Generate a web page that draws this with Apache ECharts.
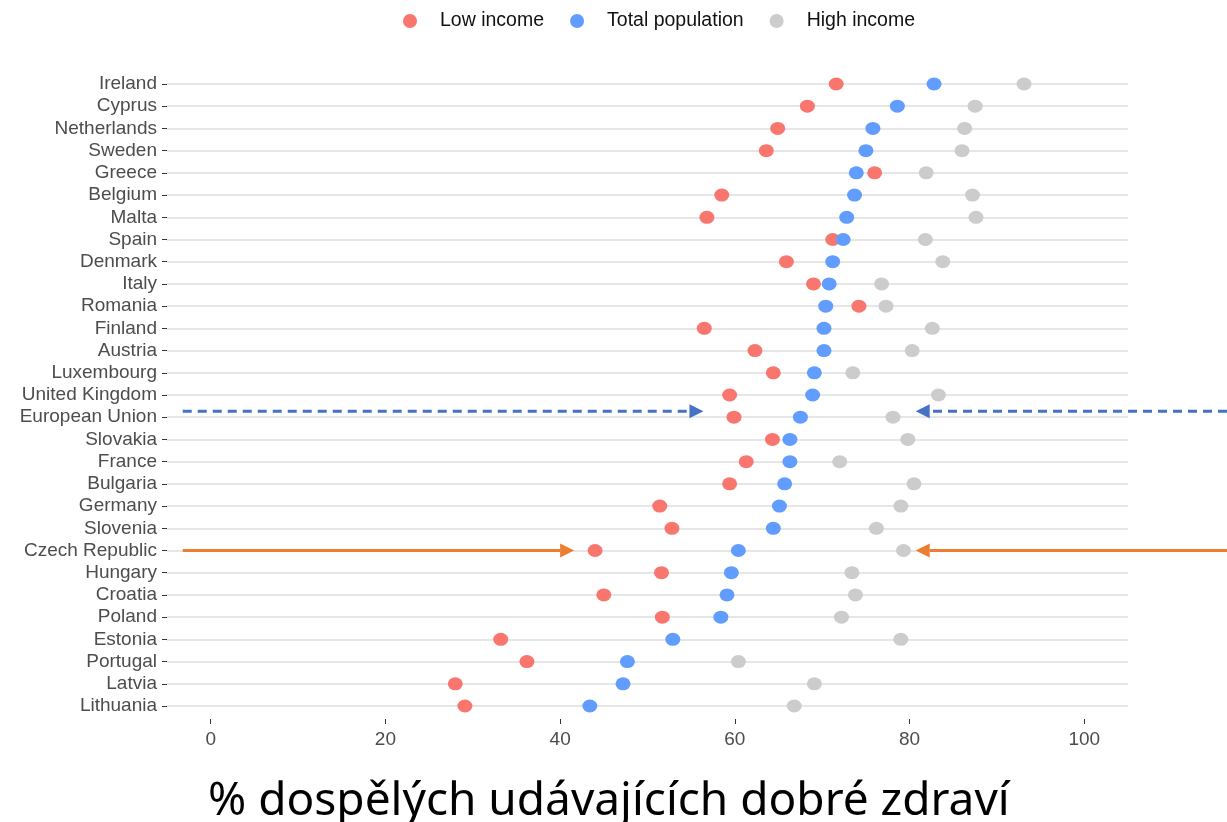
<!DOCTYPE html>
<html>
<head>
<meta charset="utf-8">
<title>Dobré zdraví podle příjmu</title>
<script src="https://cdn.jsdelivr.net/npm/echarts@6/dist/echarts.min.js"></script>
<style>
  html, body { margin: 0; padding: 0; background: #fff; }
  #chart { width: 1227px; height: 822px; }
</style>
</head>
<body>
<div id="chart"></div>
<script>
  // categories, top to bottom
  var countries = ['Ireland', 'Cyprus', 'Netherlands', 'Sweden', 'Greece', 'Belgium', 'Malta', 'Spain',
    'Denmark', 'Italy', 'Romania', 'Finland', 'Austria', 'Luxembourg', 'United Kingdom', 'European Union',
    'Slovakia', 'France', 'Bulgaria', 'Germany', 'Slovenia', 'Czech Republic', 'Hungary', 'Croatia',
    'Poland', 'Estonia', 'Portugal', 'Latvia', 'Lithuania']
  var lowIncome = [71.6, 68.3, 64.9, 63.6, 76.0, 58.5, 56.8, 71.2, 65.9, 69.0, 74.2, 56.5, 62.3, 64.4, 59.4,
    59.9, 64.3, 61.3, 59.4, 51.4, 52.8, 44.0, 51.6, 45.0, 51.7, 33.2, 36.2, 28.0, 29.1]
  var totalPopulation = [82.8, 78.6, 75.8, 75.0, 73.9, 73.7, 72.8, 72.4, 71.2, 70.8, 70.4, 70.2, 70.2, 69.1, 68.9,
    67.5, 66.3, 66.3, 65.7, 65.1, 64.4, 60.4, 59.6, 59.1, 58.4, 52.9, 47.7, 47.2, 43.4]
  var highIncome = [93.1, 87.5, 86.3, 86.0, 81.9, 87.2, 87.6, 81.8, 83.8, 76.8, 77.3, 82.6, 80.3, 73.5, 83.3,
    78.1, 79.8, 72.0, 80.5, 79.0, 76.2, 79.3, 73.4, 73.8, 72.2, 79.0, 60.4, 69.1, 66.8]
  var xTicks = [0, 20, 40, 60, 80, 100]
  var seriesNames = ['Low income', 'Total population', 'High income']
  var axisTitle = '% dospělých udávajících dobré zdraví'

  // arrows pointing at two rows (values where the arrow tips sit)
  var arrowRows = ['European Union', 'Czech Republic']
  var arrowLeftTips = [56.4, 41.6]
  var arrowRightTips = [80.7, 80.7]

  var colors = ['#F8766D', '#619CFF', '#CCCCCC']
  var labelFont = 'Liberation Sans, Arial, sans-serif'

  var chart = echarts.init(document.getElementById('chart'))

  function dots (name, values, color) {
    return {
      name: name,
      type: 'scatter',
      symbol: 'circle',
      symbolSize: [15, 13],
      itemStyle: {color: color, opacity: 1},
      emphasis: {disabled: true},
      data: values.map(function (v, i) { return [v, countries[i]] })
    }
  }

  chart.setOption({
    animation: false,
    legend: {
      data: seriesNames,
      top: 6,
      left: 398,
      icon: 'circle',
      itemWidth: 50,
      itemHeight: 14,
      itemGap: 26,
      textStyle: {fontSize: 19.5, color: '#111', fontFamily: labelFont}
    },
    title: {
      text: axisTitle,
      left: 208,
      top: 779,
      padding: 0,
      textStyle: {fontSize: 46, fontWeight: 'normal', color: '#000', fontFamily: 'Noto Sans'}
    },
    grid: {left: 167, right: 99, top: 84, bottom: 116},
    xAxis: {
      type: 'value',
      min: -5,
      max: 105,
      offset: 13,
      axisLine: {show: false},
      axisTick: {show: true, length: 5, customValues: xTicks, lineStyle: {color: '#333', width: 1}},
      axisLabel: {customValues: xTicks, margin: 11, fontSize: 19, color: '#4D4D4D', fontFamily: labelFont},
      splitLine: {show: false}
    },
    yAxis: {
      type: 'category',
      data: countries,
      inverse: true,
      boundaryGap: false,
      axisLine: {show: false, onZero: false},
      axisTick: {show: true, length: 5, interval: 0, lineStyle: {color: '#333', width: 1}},
      axisLabel: {interval: 0, margin: 10, fontSize: 19, color: '#4D4D4D', fontFamily: labelFont},
      splitLine: {show: true, interval: 0, lineStyle: {color: '#E6E6E6', width: 2}}
    },
    series: [
      dots(seriesNames[0], lowIncome, colors[0]),
      dots(seriesNames[1], totalPopulation, colors[1]),
      dots(seriesNames[2], highIncome, colors[2])
    ]
  })

  // arrow: straight line plus triangular head at the tip
  function arrow (x0, tip, y, color, dashed) {
    var dir = tip > x0 ? 1 : -1
    var base = tip - dir * 14
    return [
      {
        type: 'line',
        z: 10,
        shape: {x1: x0, y1: y, x2: base, y2: y},
        style: {stroke: color, lineWidth: 3, lineDash: dashed ? [9, 6] : null}
      },
      {
        type: 'polygon',
        z: 10,
        shape: {points: [[tip, y], [base, y - 7], [base, y + 7]]},
        style: {fill: color}
      }
    ]
  }

  var arrowStyle = [
    {color: '#4472C4', dashed: true, shift: -6},
    {color: '#ED7D31', dashed: false, shift: 0}
  ]
  var elements = []
  arrowRows.forEach(function (row, i) {
    var st = arrowStyle[i]
    var idx = countries.indexOf(row)
    var start = chart.convertToPixel({gridIndex: 0}, [-3.2, idx])
    var leftTip = chart.convertToPixel({gridIndex: 0}, [arrowLeftTips[i], idx])
    var rightTip = chart.convertToPixel({gridIndex: 0}, [arrowRightTips[i], idx])
    var y = start[1] + st.shift
    elements = elements.concat(arrow(start[0], leftTip[0], y, st.color, st.dashed))
    elements = elements.concat(arrow(chart.getWidth(), rightTip[0], y, st.color, st.dashed))
  })
  chart.setOption({graphic: elements})
</script>
</body>
</html>
